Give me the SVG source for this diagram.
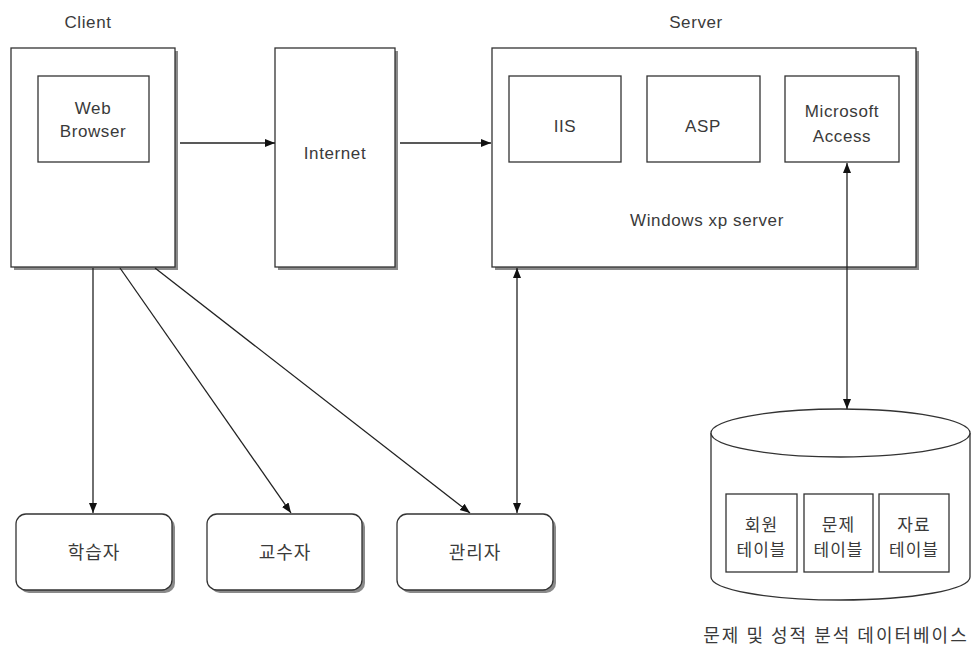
<svg xmlns="http://www.w3.org/2000/svg" width="972" height="651" viewBox="0 0 972 651">
<style>
.box{fill:#fff;stroke:#333;stroke-width:1.3}
.sh{fill:#8a8a8a}
.t{font-family:"Liberation Sans","Noto Sans CJK KR",sans-serif;font-size:17px;letter-spacing:0.6px;fill:#3a3a3a;text-anchor:middle}
.k{font-family:"Noto Sans CJK KR",sans-serif;font-size:17px;letter-spacing:1px;fill:#3a3a3a;text-anchor:middle}
.c{stroke:#222;stroke-width:1.3;fill:none}
</style>
<defs>
<marker id="a" viewBox="0 0 10 10" refX="10" refY="5" markerWidth="10" markerHeight="10" markerUnits="userSpaceOnUse" orient="auto-start-reverse">
<path d="M0,1 L10,5 L0,9 Z" fill="#111"/>
</marker>
</defs>
<rect width="972" height="651" fill="#fff"/>
<text class="t" x="88" y="28">Client</text>
<text class="t" x="696" y="28">Server</text>
<g id="client">
<rect class="sh" x="14" y="51" width="164" height="219"/>
<rect class="box" x="11" y="48" width="164" height="219"/>
<rect class="box" x="38" y="76" width="111" height="86"/>
<text class="t" x="93" y="114">Web</text>
<text class="t" x="93" y="137">Browser</text>
</g>
<g id="internet">
<rect class="sh" x="278" y="51" width="120" height="219"/>
<rect class="box" x="275" y="48" width="120" height="219"/>
<text class="t" x="335" y="159">Internet</text>
</g>
<g id="server">
<rect class="sh" x="495" y="51" width="424" height="219"/>
<rect class="box" x="492" y="48" width="424" height="219"/>
<rect class="box" x="509" y="76" width="112" height="86"/>
<text class="t" x="565" y="132">IIS</text>
<rect class="box" x="647" y="76" width="113" height="86"/>
<text class="t" x="703" y="132">ASP</text>
<rect class="box" x="785" y="76" width="114" height="86"/>
<text class="t" x="842" y="117">Microsoft</text>
<text class="t" x="842" y="142">Access</text>
<text class="t" x="707" y="226">Windows xp server</text>
</g>
<g id="learner">
<rect class="sh" x="19" y="517" width="156" height="76" rx="10"/>
<rect class="box" x="16" y="514" width="156" height="76" rx="10"/>
<text class="k" x="94" y="559" style="font-size:18px">학습자</text>
</g>
<g id="professor">
<rect class="sh" x="210" y="517" width="155" height="76" rx="10"/>
<rect class="box" x="207" y="514" width="155" height="76" rx="10"/>
<text class="k" x="285" y="559" style="font-size:18px">교수자</text>
</g>
<g id="admin">
<rect class="sh" x="400" y="517" width="156" height="76" rx="10"/>
<rect class="box" x="397" y="514" width="156" height="76" rx="10"/>
<text class="k" x="475" y="559" style="font-size:18px">관리자</text>
</g>
<g id="database">
<path class="box" d="M711,433 L711,577 A129.5,23 0 0 0 970,577 L970,433"/>
<ellipse class="box" cx="840.5" cy="433" rx="129.5" ry="24"/>
<rect class="box" x="726" y="494" width="71" height="78"/>
<text class="k" x="761.5" y="531">회원</text>
<text class="k" x="761.5" y="556">테이블</text>
<rect class="box" x="804" y="494" width="69" height="78"/>
<text class="k" x="838.5" y="531">문제</text>
<text class="k" x="838.5" y="556">테이블</text>
<rect class="box" x="879" y="494" width="70" height="78"/>
<text class="k" x="914" y="531">자료</text>
<text class="k" x="914" y="556">테이블</text>
<text class="k" x="836" y="642" style="font-size:18px;letter-spacing:2px">문제 및 성적 분석 데이터베이스</text>
</g>
<g id="connectors">
<line class="c" x1="180" y1="143" x2="275" y2="143" marker-end="url(#a)"/>
<line class="c" x1="400" y1="143" x2="491" y2="143" marker-end="url(#a)"/>
<line class="c" x1="93" y1="268" x2="93" y2="513" marker-end="url(#a)"/>
<line class="c" x1="120" y1="268" x2="291" y2="513" marker-end="url(#a)"/>
<line class="c" x1="155" y1="268" x2="470" y2="513" marker-end="url(#a)"/>
<line class="c" x1="517" y1="268" x2="517" y2="513" marker-start="url(#a)" marker-end="url(#a)"/>
<line class="c" x1="847" y1="163" x2="847" y2="409" marker-start="url(#a)" marker-end="url(#a)"/>
</g>
</svg>
